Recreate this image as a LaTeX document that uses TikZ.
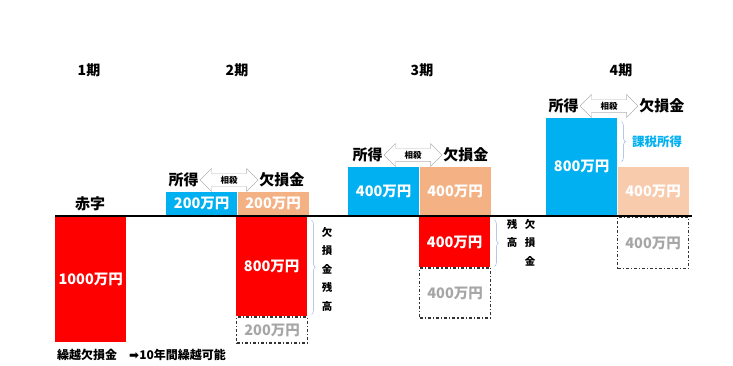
\documentclass[tikz,border=0pt]{standalone}
\usepackage{fontspec}
\setmainfont{Noto Sans CJK JP}
\newfontfamily\symfont{DejaVu Sans}
\usepackage{xcolor}
\usetikzlibrary{positioning}
\usetikzlibrary{shapes.arrows,decorations.pathreplacing}
\definecolor{incomeBlue}{HTML}{00B0F0}
\definecolor{lossOrange}{HTML}{F4B183}
\definecolor{lossPale}{HTML}{F8CBAD}
\definecolor{lossRed}{HTML}{FF0000}
\definecolor{ghostGray}{HTML}{A6A6A6}
\definecolor{braceBlue}{HTML}{8FAADC}
\tikzset{%
  bar/.style={rectangle, inner sep=0pt, minimum width=71pt, text=white, font=\bfseries\fontsize{14.5}{14.5}\selectfont},
  % ---
  % coloured bars
  % ---
  incomeBar/.style={bar, fill=incomeBlue},
  lossBar/.style={bar, fill=lossOrange},
  paleBar/.style={bar, fill=lossPale},
  redBar/.style={bar, fill=lossRed},
  ghostBar/.style={bar, draw=black!80, line width=1.2pt, dash dot, text=ghostGray},
  %
  period/.style={font=\bfseries\fontsize{14}{14}\selectfont},
  heading/.style={font=\bfseries\fontsize{15}{15}\selectfont, inner sep=1pt},
  offset/.style={double arrow, draw=black!30, fill=white, inner sep=2.2pt,
      double arrow head extend=5pt, minimum height=58pt, font=\bfseries\fontsize{8.5}{8.5}\selectfont},
  tate/.style={align=center, inner sep=0pt, font=\bfseries\fontsize{10.5}{18.5}\selectfont},
  curly/.style={draw=braceBlue, decorate, decoration={brace, amplitude=4pt}}
}
\begin{document}
\begin{tikzpicture}[x=1pt, y=-1pt]
    \useasboundingbox (0,0) rectangle (733,366);

    %Periods
    \node[period] (p1) at (89,70) {1期};
    \node[period] (p2) at (237,70) {2期};
    \node[period] (p3) at (422,70) {3期};
    \node[period] (p4) at (621,70) {4期};

    %Base line
    \coordinate (base-l) at (55,216);
    \coordinate (base-r) at (692,216);

    %Period 1
    \node[heading] (deficit) at (90,204) {赤字};
    \node[redBar, minimum height=125pt, anchor=north west] (red1) at (55,217) {1000万円};
    \node[anchor=west, inner sep=0pt, font=\bfseries\fontsize{12}{12}\selectfont] (carry) at (57,355)
        {繰越欠損金\hspace{12pt}{\symfont ➡}10年間繰越可能};

    %Period 2
    \node[incomeBar, minimum height=24pt, anchor=south west] (blue2) at (166,216) {200万円};
    \node[lossBar, minimum height=24pt, anchor=south west] (orange2) at (blue2.south east) {200万円};
    \node[redBar, minimum height=99pt, anchor=north west] (red2) at (236,217) {800万円};
    \node[ghostBar, minimum height=26pt, anchor=north west] (ghost2) at (red2.south west) {200万円};
    \node[offset] (arrow2) at (229,180) {相殺};
    \node[heading, left=0pt of arrow2] (inc2) {所得};
    \node[heading, right=0pt of arrow2] (loss2) {欠損金};
    \node[tate, anchor=north] (rest2) at (327,227) {欠\\損\\金\\残\\高};

    %Period 3
    \node[incomeBar, minimum height=49pt, anchor=south west] (blue3) at (348,216) {400万円};
    \node[lossBar, minimum height=49pt, anchor=south west] (orange3) at (blue3.south east) {400万円};
    \node[redBar, minimum height=50pt, anchor=north west] (red3) at (419,217) {400万円};
    \node[ghostBar, minimum height=50pt, anchor=north west] (ghost3) at (red3.south west) {400万円};
    \node[offset] (arrow3) at (413,155) {相殺};
    \node[heading, left=0pt of arrow3] (inc3) {所得};
    \node[heading, right=0pt of arrow3] (loss3) {欠損金};
    \node[tate, anchor=north] (rest3a) at (530,219) {欠\\損\\金};
    \node[tate, anchor=north] (rest3b) at (512,219) {残\\高};

    %Period 4
    \node[incomeBar, minimum height=98pt, anchor=south west] (blue4) at (546,216) {800万円};
    \node[paleBar, minimum height=49pt, anchor=south west] (orange4) at (blue4.south east) {400万円};
    \node[ghostBar, minimum height=51pt, anchor=north west] (ghost4) at (617,217) {400万円};
    \node[offset] (arrow4) at (609,106) {相殺};
    \node[heading, left=0pt of arrow4] (inc4) {所得};
    \node[heading, right=0pt of arrow4] (loss4) {欠損金};
    \node[text=incomeBlue, font=\bfseries\fontsize{12.5}{12.5}\selectfont] (taxable) at (657,142) {課税所得};

    %Lines
    \draw[line width=1.2pt] (base-l) -- (base-r);
    \draw[curly] ([xshift=4pt,yshift=-3pt]red2.north east) -- ([xshift=4pt,yshift=2pt]red2.south east);
    \draw[curly] ([xshift=4pt,yshift=-3pt]red3.north east) -- ([xshift=4pt,yshift=1pt]red3.south east);
    \draw[curly] ([xshift=4pt,yshift=-4pt]blue4.north east) -- ([xshift=4pt,yshift=5pt]orange4.north west);
\end{tikzpicture}
\end{document}
